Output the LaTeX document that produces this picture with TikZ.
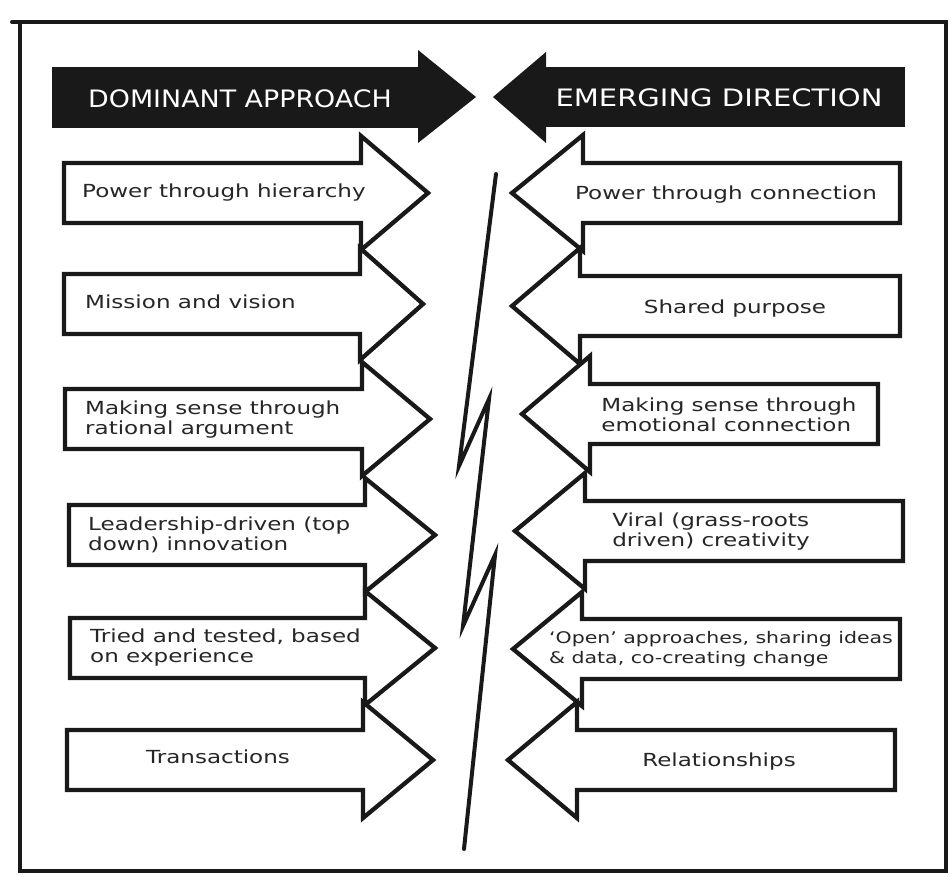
\documentclass[tikz,border=0pt]{standalone}
\usepackage{fontspec}
\setmainfont{DejaVu Sans}
\newfontfamily\handfont[FakeStretch=1.28]{DejaVu Sans}
\newfontfamily\headfont[FakeStretch=1.12]{DejaVu Sans}
\newcommand\MyRArr[5]{%
  \draw[arr] (#1,#4-30) -- (#2,#4-30) -- (#2,#4-#5) -- (#3,#4) -- (#2,#4+#5) -- (#2,#4+30) -- (#1,#4+30) -- cycle;}
\newcommand\MyLArr[5]{%
  \draw[arr] (#1,#4-30) -- (#2,#4-30) -- (#2,#4-#5) -- (#3,#4) -- (#2,#4+#5) -- (#2,#4+30) -- (#1,#4+30) -- cycle;}
\tikzset{
  arr/.style={draw=black!90, line width=4.3pt, line join=miter, fill=white},
  lbl/.style={font=\handfont\fontsize{18}{20}\selectfont, inner sep=0pt, align=left, text=black!85},
  hdr/.style={font=\headfont\fontsize{24}{26}\selectfont, text=white, inner sep=0pt},
  framestyle/.style={line width=4pt, line cap=round, draw=black!90},
  bolt/.style={line width=4pt, line join=miter, line cap=round, draw=black!90},
}
\begin{document}
\begin{tikzpicture}[x=1pt,y=-1pt]
\useasboundingbox (0,0) rectangle (951,877);
% frame
\draw[framestyle] (12,22) -- (946,22) -- (946,871) -- (20,871) -- (20,22);
% header arrows
\fill[black!90] (52,67) rectangle (421,128);
\fill[black!90] (418,50) -- (476,97) -- (418,143) -- cycle;
\node[hdr] (hl) at (240,99) {DOMINANT APPROACH};
\fill[black!90] (493,97) -- (546,52) -- (546,143) -- cycle;
\fill[black!90] (543,67) rectangle (905,127);
\node[hdr, xscale=1.08] (hr) at (719,98) {EMERGING DIRECTION};
% left arrows (pointing right)
\MyRArr{64}{361}{428}{193}{57}
\MyRArr{64}{360}{423}{304}{56}
\MyRArr{65}{362}{430}{419}{57}
\MyRArr{69}{365}{435}{535}{57}
\MyRArr{70}{365}{435}{648}{57}
\MyRArr{67}{363}{433}{760}{58}
% right arrows (pointing left)
\MyLArr{900}{583}{512}{193}{58}
\MyLArr{900}{580}{512}{306}{58}
\MyLArr{878}{590}{522}{414}{58}
\MyLArr{903}{585}{515}{531}{58}
\MyLArr{900}{582}{513}{649}{57}
\MyLArr{895}{577}{508}{760}{58}
% left texts
\node[lbl, anchor=west] (l1) at (82,193) {Power through hierarchy};
\node[lbl, anchor=west] (l2) at (85,302) {Mission and vision};
\node[lbl, anchor=west] (l3) at (85,420) {Making sense through\\rational argument};
\node[lbl, anchor=west] (l4) at (88,535) {Leadership-driven (top\\down) innovation};
\node[lbl, anchor=west] (l5) at (90,648) {Tried and tested, based\\on experience};
\node[lbl] (l6) at (218,757) {Transactions};
% right texts
\node[lbl] (r1) at (726,195) {Power through connection};
\node[lbl] (r2) at (735,309) {Shared purpose};
\node[lbl] (r3) at (729,415) {Making sense through\\emotional connection};
\node[lbl] (r4) at (711,532) {Viral (grass-roots\\driven) creativity};
\node[lbl, font=\handfont\fontsize{16}{20}\selectfont] (r5) at (721,649) {‘Open’ approaches, sharing ideas\\\& data, co-creating change};
\node[lbl] (r6) at (719,762) {Relationships};
% lightning divider
\coordinate (z0) at (496,174);
\coordinate (z1) at (459,466);
\coordinate (z2) at (489,399);
\coordinate (z3) at (463,626);
\coordinate (z4) at (495,555);
\coordinate (z5) at (464,849);
\draw[bolt] (z0) -- (z1) -- (z2) -- (z3) -- (z4) -- (z5);
\end{tikzpicture}
\end{document}
